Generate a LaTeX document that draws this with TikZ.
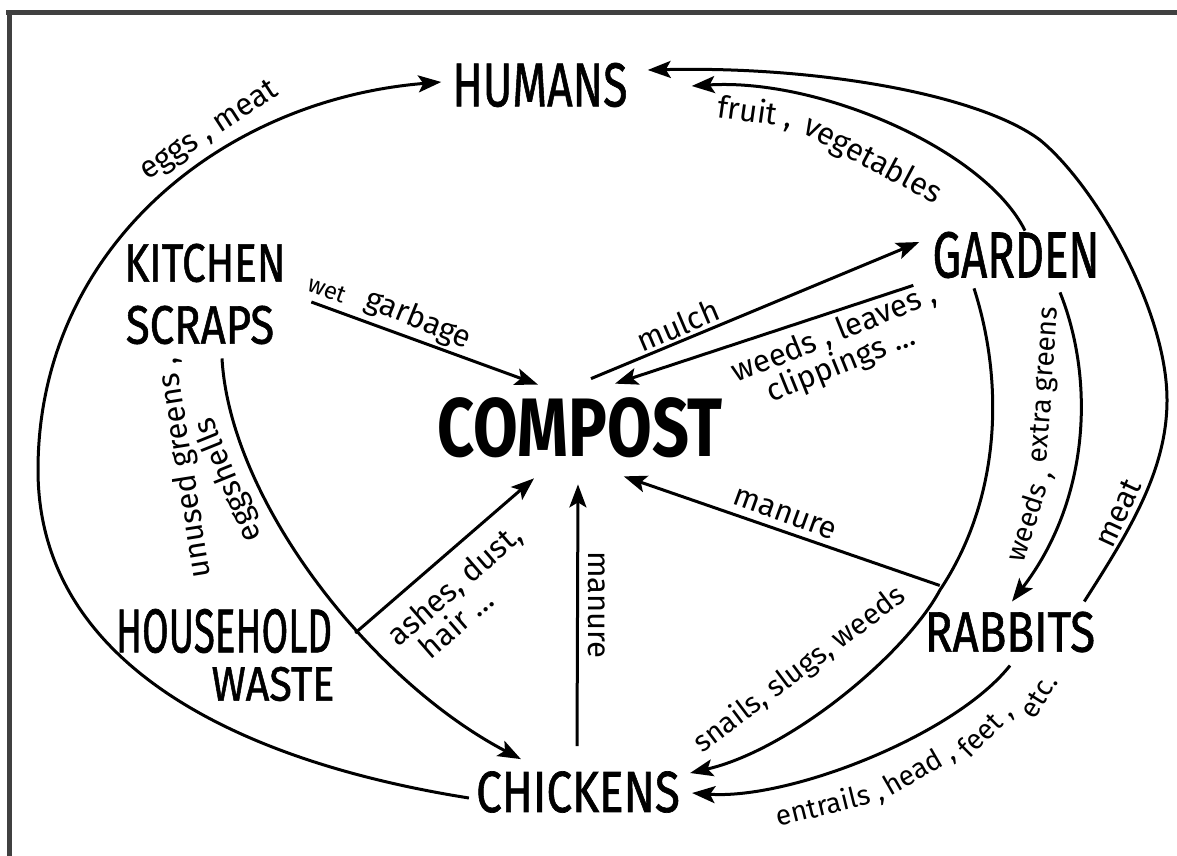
\documentclass[tikz,border=0pt]{standalone}
\usepackage{fontspec}
\setmainfont{Fira Sans}
\newfontfamily\namefont[FakeBold=1.2]{Fira Sans}
\usepackage{graphicx}
\usetikzlibrary{arrows.meta,calc}
\newcommand{\cxs}[2]{\scalebox{#1}[1]{#2}}
\begin{document}
\begin{tikzpicture}[x=1pt,y=-1pt,
  place/.style={inner sep=0pt,text=black},
  lbl/.style={inner sep=0pt,text=black,font=\fontsize{31}{31}\selectfont},
  flow/.style={line width=3pt,draw=black,-{Stealth[length=23pt,width=17pt,inset=5pt]}},
  frame/.style={line width=5pt,draw=black!75}]
\useasboundingbox (0,0) rectangle (1177,856);
\fill[white] (0,0) rectangle (1177,856);
% scanned frame
\draw[frame] (6,13) -- (1177,13);
\draw[frame] (9,13) -- (9,856);
% places
\node[place,font=\namefont\fontsize{62}{62}\selectfont] (hum) at (540,85) {\cxs{0.72}{HUMANS}};
\node[place,font=\namefont\fontsize{65}{65}\selectfont] (gar) at (1016,255) {\cxs{0.70}{GARDEN}};
\node[place,font=\namefont\fontsize{54}{54}\selectfont] (kit) at (205,263) {\cxs{0.78}{KITCHEN}};
\node[place,font=\namefont\fontsize{54}{54}\selectfont] (scr) at (200,325) {\cxs{0.81}{SCRAPS}};
\node[place,font=\fontsize{83}{83}\selectfont\bfseries] (comp) at (580,428) {\cxs{0.78}{COMPOST}};
\node[place,font=\namefont\fontsize{62}{62}\selectfont] (hh) at (224,631) {\cxs{0.62}{HOUSEHOLD}};
\node[place,font=\namefont\fontsize{48}{48}\selectfont] (ws) at (273,684) {\cxs{0.86}{WASTE}};
\node[place,font=\namefont\fontsize{58}{58}\selectfont] (chk) at (578,792) {\cxs{0.79}{CHICKENS}};
\node[place,font=\namefont\fontsize{57}{57}\selectfont] (rab) at (1010,632) {\cxs{0.80}{RABBITS}};
% connectors
\draw[flow] ($(chk.west)+(-7,6)$) .. controls (230,760) and (38,660) .. (38,470)
   .. controls (38,250) and (220,100) .. ($(hum.west)+(-11,-3)$);
\draw[flow] ($(gar.north)+(9,-1)$) .. controls (985,150) and (820,78) .. ($(hum.east)+(64,1)$);
\draw[flow] ($(rab.north east)+(-11,-10)$) .. controls (1130,530) and (1167,470) .. (1167,400)
   .. controls (1167,310) and (1095,185) .. (1040,140)
   .. controls (980,95) and (820,66) .. ($(hum.east)+(20,-15)$);
\draw[flow] ($(gar.south)+(44,14)$) .. controls (1095,380) and (1090,500) .. ($(rab.north)+(2,-10)$);
\draw[flow] ($(gar.south)+(-42,10)$) .. controls (1005,385) and (1000,500) .. (940,590)
   .. controls (905,655) and (790,750) .. ($(chk.east)+(10,-19)$);
\draw[flow] ($(rab.south)+(0,13)$) .. controls (955,735) and (790,800) .. ($(chk.east)+(12,1)$);
\draw[flow] ($(scr.south)+(22,14)$) .. controls (230,500) and (370,680) .. ($(chk.north west)+(45,-12)$);
\draw[flow] ($(scr.east)+(37,-23)$) -- ($(comp.north)+(-42,-13)$);
\draw[flow] ($(comp.north)+(11,-19)$) -- ($(gar.west)+(-13,-13)$);
\draw[flow] ($(gar.south west)+(-19,7)$) -- ($(comp.north)+(35,-14)$);
\draw[flow] ($(hh.east)+(23,2)$) -- ($(comp.south)+(-46,20)$);
\draw[flow] ($(chk.north)+(-1,-25)$) -- ($(comp.south)+(-2,26)$);
\draw[flow] ($(rab.north west)+(15,-26)$) -- ($(comp.south east)+(-99,18)$);
% labels
\node[lbl,rotate=33] (l1) at (210,132) {eggs , meat};
\node[lbl,rotate=-8] (l2a) at (755,113) {fruit ,};
\node[lbl,rotate=-28] (l2b) at (872,161) {vegetables};
\node[lbl,rotate=65] (l3) at (1118,513) {meat};
\node[lbl,rotate=72,font=\fontsize{28}{30}\selectfont] (l4a) at (1030,516) {weeds ,};
\node[lbl,rotate=86,font=\fontsize{28}{30}\selectfont] (l4b) at (1046,385) {extra greens};
\node[lbl,rotate=37,font=\fontsize{29}{31}\selectfont] (l5) at (800,670) {snails, slugs, weeds};
\node[lbl,rotate=14,font=\fontsize{28}{30}\selectfont] (l6a) at (830,805) {entrails ,};
\node[lbl,rotate=30,font=\fontsize{28}{30}\selectfont] (l6b) at (920,770) {head ,};
\node[lbl,rotate=45,font=\fontsize{28}{30}\selectfont] (l6c) at (986,731) {feet ,};
\node[lbl,rotate=58,font=\fontsize{28}{30}\selectfont] (l6d) at (1039,696) {etc.};
\node[lbl,rotate=99] (l7a) at (185,468) {unused greens ,};
\node[lbl,rotate=112] (l7b) at (229,480) {eggshells};
\node[lbl,rotate=-20,font=\fontsize{24}{24}\selectfont] (l8a) at (327,290) {wet};
\node[lbl,rotate=-22] (l8b) at (418,320) {garbage};
\node[lbl,rotate=23] (l9) at (678,325) {mulch};
\node[lbl,rotate=22,align=left] (l10) at (840,349) {weeds , leaves ,\\\hspace{0.8em}clippings ...};
\node[lbl,rotate=41,align=left] (l11) at (464,596) {ashes, dust,\\\hspace{0.5em}hair ...};
\node[lbl,rotate=-90] (l12) at (597,605) {manure};
\node[lbl,rotate=-20] (l13) at (785,514) {manure};
\end{tikzpicture}
\end{document}
